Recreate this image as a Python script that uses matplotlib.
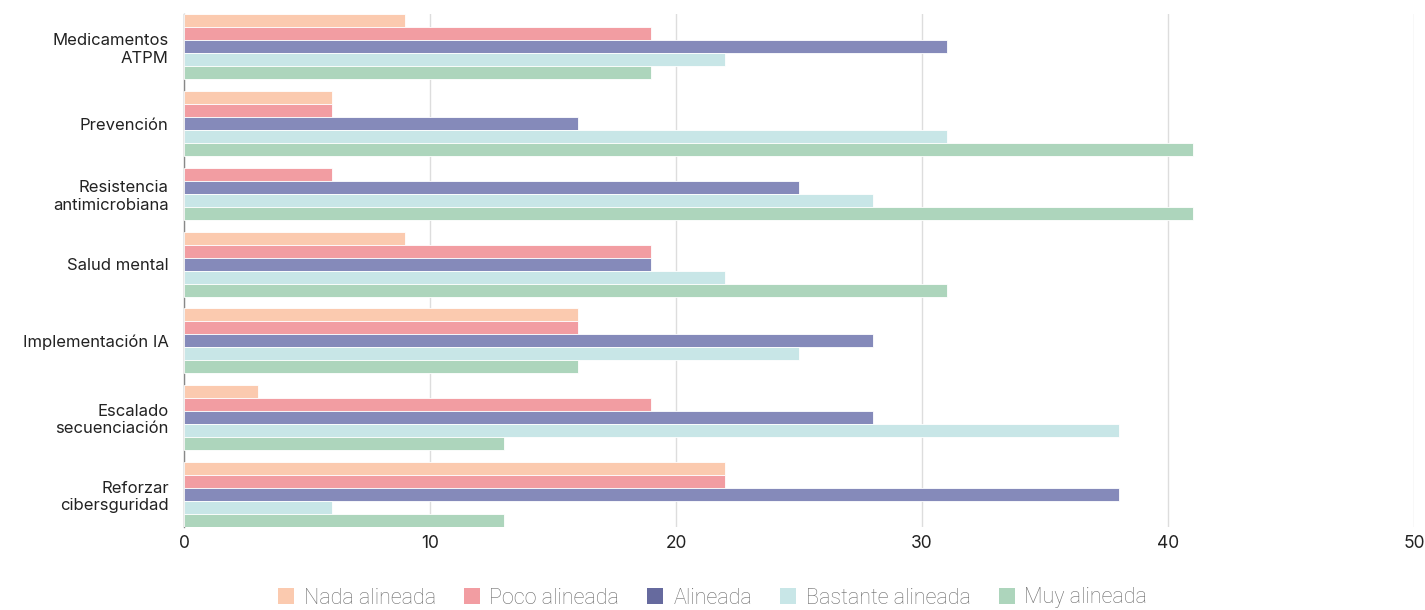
import matplotlib
matplotlib.use("Agg")
from matplotlib import pyplot as plt
from matplotlib.patches import Patch
import numpy as np

categories = [
    "Medicamentos\nATPM",
    "Prevención",
    "Resistencia\nantimicrobiana",
    "Salud mental",
    "Implementación IA",
    "Escalado\nsecuenciación",
    "Reforzar\ncibersguridad",
]
series_names = ["Nada alineada", "Poco alineada", "Alineada", "Bastante alineada", "Muy alineada"]
nada = [9, 6, 0, 9, 16, 3, 22]
poco = [19, 6, 6, 19, 16, 19, 22]
alineada = [31, 16, 25, 19, 28, 28, 38]
bastante = [22, 31, 28, 22, 25, 38, 6]
muy = [19, 41, 41, 31, 16, 13, 13]
x_ticks = [0, 10, 20, 30, 40, 50]

bar_colors = ["#fbcaaf", "#f29da2", "#858aba", "#c8e6e7", "#add5bc"]
legend_colors = ["#fbcaaf", "#f29da2", "#666a9e", "#c8e6e7", "#add5bc"]

plt.rcParams["font.family"] = ["Inter", "DejaVu Sans"]

fig = plt.figure(figsize=(14.25, 6.1), dpi=100)
ax = fig.add_axes([184 / 1425, 83 / 610, 1230 / 1425, 513 / 610])

values = np.array([nada, poco, alineada, bastante, muy])
bh = 13.0      # bar thickness (pixel-like units)
gap = 11.75    # space between groups

# groups are stacked one after another; empty bars take no room
y = 0.25
centers = []
for ci in range(len(categories)):
    idx = [s for s in range(len(series_names)) if values[s, ci] > 0]
    start = y
    for s in idx:
        ax.barh(y + bh / 2, values[s, ci], height=bh, color=bar_colors[s],
                edgecolor="white", linewidth=0.6, zorder=3)
        y += bh
    centers.append((start + y) / 2)
    y += gap

ax.set_ylim(513, 0)
ax.set_xlim(0, 50)
ax.set_yticks(centers)
ax.set_yticklabels(categories, fontsize=12, color="#222222")
ax.set_xticks(x_ticks)
ax.set_xticklabels([str(t) for t in x_ticks], fontsize=12.5, color="#222222")
ax.tick_params(axis="y", length=0, pad=11)
ax.tick_params(axis="x", length=0, pad=6)
ax.grid(axis="x", color="#dddddd", linewidth=1, zorder=0)
for side in ["top", "right", "bottom"]:
    ax.spines[side].set_visible(False)
ax.spines["left"].set_color("#888888")
ax.spines["left"].set_linewidth(1)

handles = [Patch(facecolor=c, edgecolor="none") for c in legend_colors]
fig.legend(handles, series_names, loc="center", bbox_to_anchor=(0.5, 1 - 598 / 610),
           ncol=5, frameon=False, labelcolor="#6b6b6b",
           handlelength=0.75, handleheight=0.75, handletextpad=0.45, columnspacing=1.3,
           prop={"family": ["Roboto", "DejaVu Sans"], "weight": "light", "size": 15.5})

fig.savefig("out.png", dpi=100)
